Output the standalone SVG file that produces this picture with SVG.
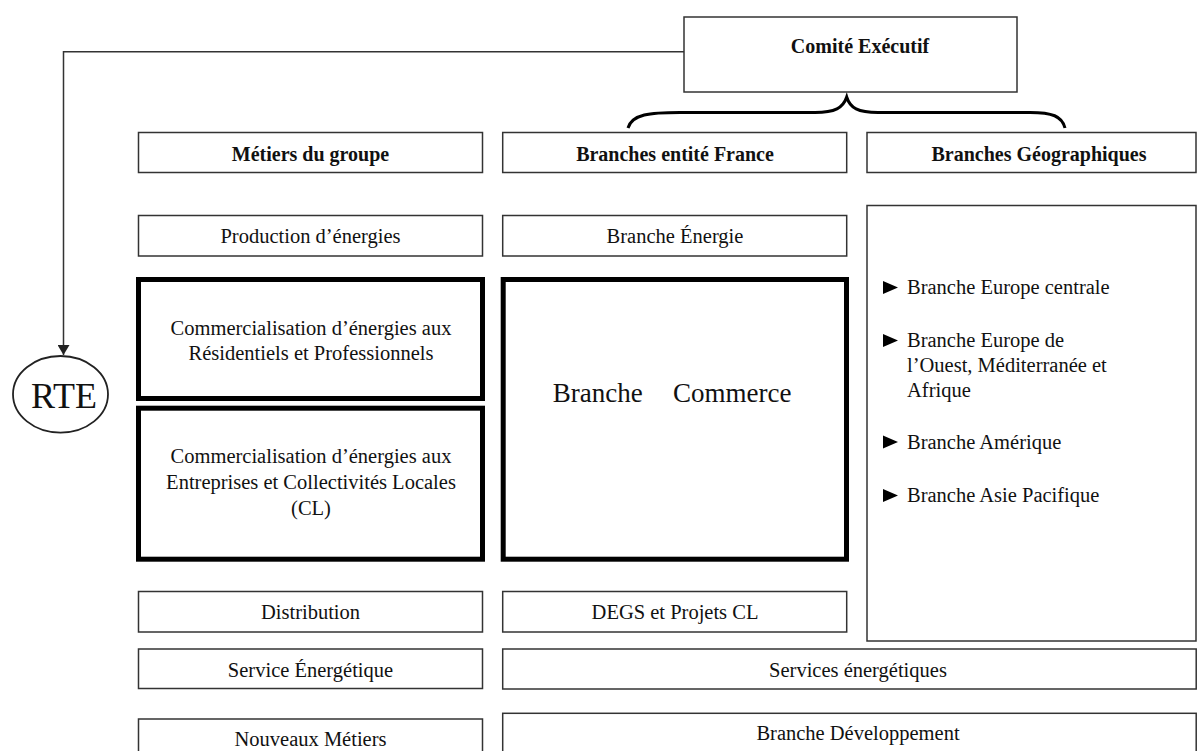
<svg xmlns="http://www.w3.org/2000/svg" width="1197" height="751" viewBox="0 0 1197 751">
<defs>
<style>
.box{fill:#fff;stroke:#333;stroke-width:1.5}
.thick{fill:#fff;stroke:#000;stroke-width:5}
.t{font-family:"Liberation Serif",serif;font-size:20.5px;fill:#111;text-anchor:middle}
.b{font-family:"Liberation Serif",serif;font-size:20px;font-weight:bold;fill:#111;text-anchor:middle}
.l{font-family:"Liberation Serif",serif;font-size:20.5px;fill:#111}
.conn{fill:none;stroke:#333;stroke-width:1.5}
.brace{fill:none;stroke:#000;stroke-width:3}
</style>
<marker id="arr" markerWidth="10" markerHeight="12" refX="10" refY="6" orient="auto" markerUnits="userSpaceOnUse">
<path d="M0,0 L10,6 L0,12 Z" fill="#222"/>
</marker>
</defs>
<rect width="1197" height="751" fill="#fff"/>

<g id="connectors">
<path class="conn" d="M684,51.7 H63.5 V355" marker-end="url(#arr)"/>
<path class="brace" d="M628,128 C632,114 650,112.5 680,112.5 H815 C835,112.5 843,108 846.7,97 C850,108 858,112.5 878,112.5 H1030 C1052,112.5 1062,116 1065,128"/>
</g>

<g id="comite">
<rect class="box" x="684" y="17" width="333" height="75"/>
<text class="b" x="860" y="53">Comité Exécutif</text>
</g>

<g id="rte">
<ellipse cx="60.5" cy="394.3" rx="47.5" ry="38.3" fill="#fff" stroke="#222" stroke-width="1.8"/>
<text class="t" x="64" y="408" style="font-size:36px">RTE</text>
</g>

<g id="metiers-header">
<rect class="box" x="138.5" y="132.5" width="344" height="40"/>
<text class="b" x="310.5" y="161">Métiers du groupe</text>
</g>
<g id="france-header">
<rect class="box" x="502.7" y="132.5" width="344" height="40"/>
<text class="b" x="675" y="161">Branches entité France</text>
</g>
<g id="geo-header">
<rect class="box" x="867" y="132.5" width="329" height="40"/>
<text class="b" x="1039" y="161">Branches Géographiques</text>
</g>

<g id="production">
<rect class="box" x="138.5" y="215.5" width="344" height="40.5"/>
<text class="t" x="310.5" y="243">Production d’énergies</text>
</g>
<g id="branche-energie">
<rect class="box" x="502.7" y="215.5" width="344" height="40.5"/>
<text class="t" x="675" y="243">Branche Énergie</text>
</g>

<g id="comm-residentiels">
<rect class="thick" x="138.5" y="279.5" width="344" height="119"/>
<text class="t" x="311" y="335">Commercialisation d’énergies aux</text>
<text class="t" x="311" y="360">Résidentiels et Professionnels</text>
</g>
<g id="comm-entreprises">
<rect class="thick" x="138.5" y="408.2" width="344" height="151"/>
<text class="t" x="311" y="463">Commercialisation d’énergies aux</text>
<text class="t" x="311" y="489">Entreprises et Collectivités Locales</text>
<text class="t" x="311" y="515">(CL)</text>
</g>
<g id="branche-commerce">
<rect class="thick" x="503.2" y="279.5" width="343.3" height="279.7"/>
<text class="l" y="402" style="font-size:27px"><tspan x="552.7">Branche</tspan><tspan x="673">Commerce</tspan></text>
</g>

<g id="geo-list">
<rect class="box" x="867" y="205.5" width="329" height="435.5"/>
<g fill="#000">
<path d="M883,281 L898,287.5 L883,294 Z"/>
<path d="M883,334 L898,340.5 L883,347 Z"/>
<path d="M883,435.5 L898,442 L883,448.5 Z"/>
<path d="M883,489 L898,495.5 L883,502 Z"/>
</g>
<text class="l" x="907" y="294">Branche Europe centrale</text>
<text class="l" x="907" y="347">Branche Europe de</text>
<text class="l" x="907" y="372">l’Ouest, Méditerranée et</text>
<text class="l" x="907" y="397">Afrique</text>
<text class="l" x="907" y="448.5">Branche Amérique</text>
<text class="l" x="907" y="501.5">Branche Asie Pacifique</text>
</g>

<g id="distribution">
<rect class="box" x="138.5" y="591.5" width="344" height="40.5"/>
<text class="t" x="310.5" y="619">Distribution</text>
</g>
<g id="degs">
<rect class="box" x="502.7" y="591.5" width="344" height="40.5"/>
<text class="t" x="675" y="619">DEGS et Projets CL</text>
</g>

<g id="service-energetique">
<rect class="box" x="138.5" y="649" width="344" height="39.5"/>
<text class="t" x="310.5" y="677">Service Énergétique</text>
</g>
<g id="services-energetiques">
<rect class="box" x="502.7" y="649" width="693.5" height="40"/>
<text class="t" x="858" y="677">Services énergétiques</text>
</g>

<g id="nouveaux-metiers">
<rect class="box" x="138.5" y="719" width="344" height="45"/>
<text class="t" x="310.5" y="746">Nouveaux Métiers</text>
</g>
<g id="branche-developpement">
<rect class="box" x="502.7" y="713.3" width="693.5" height="50"/>
<text class="t" x="858" y="740">Branche Développement</text>
</g>
</svg>
